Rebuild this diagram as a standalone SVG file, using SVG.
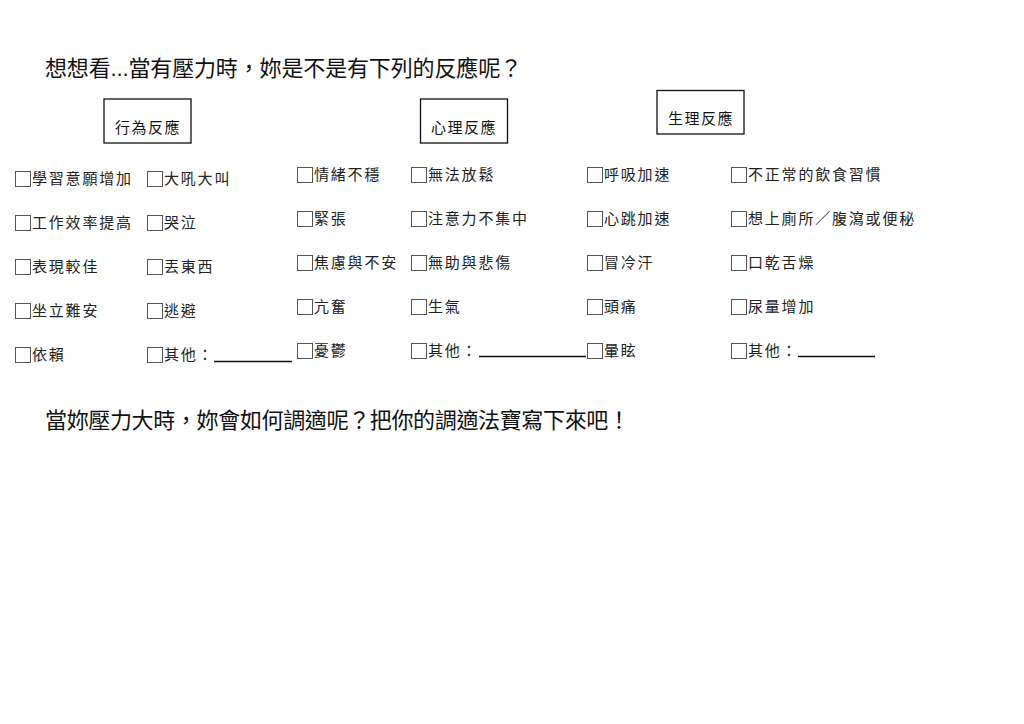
<svg xmlns="http://www.w3.org/2000/svg" width="1024" height="724" viewBox="0 0 1024 724">
<style>
.h{font-family:"Liberation Sans","Noto Sans CJK TC",sans-serif;font-size:22px;fill:#111}
.lbl{font-family:"Noto Sans CJK TC",sans-serif;font-size:15px;fill:#111;text-anchor:middle;letter-spacing:1.5px}
.it{font-family:"Noto Sans CJK TC",sans-serif;font-size:15px;fill:#222;letter-spacing:1.8px}
.cb{fill:#fff;stroke:#555;stroke-width:1}
.box{fill:#fff;stroke:#111;stroke-width:1.3}
.ul{stroke:#111;stroke-width:1.3}
</style>
<rect width="1024" height="724" fill="#fff"/>
<g id="title">
<text class="h" x="45" y="76" textLength="477" lengthAdjust="spacing">想想看...當有壓力時，妳是不是有下列的反應呢？</text>
</g>
<g id="hdr-behavior">
<rect class="box" x="104" y="99" width="87" height="44"/>
<text class="lbl" x="148" y="132.5">行為反應</text>
</g>
<g id="hdr-psych">
<rect class="box" x="420.5" y="99" width="87" height="44"/>
<text class="lbl" x="464" y="132.5">心理反應</text>
</g>
<g id="hdr-physio">
<rect class="box" x="657" y="90.5" width="87" height="43.5"/>
<text class="lbl" x="701" y="123.5">生理反應</text>
</g>
<g id="col1">
<rect class="cb" x="15.5" y="171.5" width="15" height="15"/><text class="it" x="32" y="183.5">學習意願增加</text>
<rect class="cb" x="15.5" y="215.5" width="15" height="15"/><text class="it" x="32" y="227.5">工作效率提高</text>
<rect class="cb" x="15.5" y="259.5" width="15" height="15"/><text class="it" x="32" y="271.5">表現較佳</text>
<rect class="cb" x="15.5" y="303.5" width="15" height="15"/><text class="it" x="32" y="315.5">坐立難安</text>
<rect class="cb" x="15.5" y="347.5" width="15" height="15"/><text class="it" x="32" y="359.5">依賴</text>
</g>
<g id="col2">
<rect class="cb" x="147.5" y="171.5" width="15" height="15"/><text class="it" x="164" y="183.5">大吼大叫</text>
<rect class="cb" x="147.5" y="215.5" width="15" height="15"/><text class="it" x="164" y="227.5">哭泣</text>
<rect class="cb" x="147.5" y="259.5" width="15" height="15"/><text class="it" x="164" y="271.5">丟東西</text>
<rect class="cb" x="147.5" y="303.5" width="15" height="15"/><text class="it" x="164" y="315.5">逃避</text>
<rect class="cb" x="147.5" y="347.5" width="15" height="15"/><text class="it" x="164" y="359.5">其他：</text>
<line class="ul" x1="214" y1="361.5" x2="292" y2="361.5"/>
</g>
<g id="col3">
<rect class="cb" x="297.5" y="167.5" width="15" height="15"/><text class="it" x="314" y="179.5">情緒不穩</text>
<rect class="cb" x="297.5" y="211.5" width="15" height="15"/><text class="it" x="314" y="223.5">緊張</text>
<rect class="cb" x="297.5" y="255.5" width="15" height="15"/><text class="it" x="314" y="267.5">焦慮與不安</text>
<rect class="cb" x="297.5" y="299.5" width="15" height="15"/><text class="it" x="314" y="311.5">亢奮</text>
<rect class="cb" x="297.5" y="343.5" width="15" height="15"/><text class="it" x="314" y="355.5">憂鬱</text>
</g>
<g id="col4">
<rect class="cb" x="411.5" y="167.5" width="15" height="15"/><text class="it" x="428" y="179.5">無法放鬆</text>
<rect class="cb" x="411.5" y="211.5" width="15" height="15"/><text class="it" x="428" y="223.5">注意力不集中</text>
<rect class="cb" x="411.5" y="255.5" width="15" height="15"/><text class="it" x="428" y="267.5">無助與悲傷</text>
<rect class="cb" x="411.5" y="299.5" width="15" height="15"/><text class="it" x="428" y="311.5">生氣</text>
<rect class="cb" x="411.5" y="343.5" width="15" height="15"/><text class="it" x="428" y="355.5">其他：</text>
<line class="ul" x1="479" y1="356.5" x2="586" y2="356.5"/>
</g>
<g id="col5">
<rect class="cb" x="587.5" y="167.5" width="15" height="15"/><text class="it" x="604" y="179.5">呼吸加速</text>
<rect class="cb" x="587.5" y="211.5" width="15" height="15"/><text class="it" x="604" y="223.5">心跳加速</text>
<rect class="cb" x="587.5" y="255.5" width="15" height="15"/><text class="it" x="604" y="267.5">冒冷汗</text>
<rect class="cb" x="587.5" y="299.5" width="15" height="15"/><text class="it" x="604" y="311.5">頭痛</text>
<rect class="cb" x="587.5" y="343.5" width="15" height="15"/><text class="it" x="604" y="355.5">暈眩</text>
</g>
<g id="col6">
<rect class="cb" x="731.5" y="167.5" width="15" height="15"/><text class="it" x="748" y="179.5">不正常的飲食習慣</text>
<rect class="cb" x="731.5" y="211.5" width="15" height="15"/><text class="it" x="748" y="223.5">想上廁所／腹瀉或便秘</text>
<rect class="cb" x="731.5" y="255.5" width="15" height="15"/><text class="it" x="748" y="267.5">口乾舌燥</text>
<rect class="cb" x="731.5" y="299.5" width="15" height="15"/><text class="it" x="748" y="311.5">尿量增加</text>
<rect class="cb" x="731.5" y="343.5" width="15" height="15"/><text class="it" x="748" y="355.5">其他：</text>
<line class="ul" x1="798" y1="356.5" x2="875" y2="356.5"/>
</g>
<g id="question">
<text class="h" x="45" y="428" textLength="585" lengthAdjust="spacing">當妳壓力大時，妳會如何調適呢？把你的調適法寶寫下來吧！</text>
</g>
<g id="connectors"/>
</svg>
